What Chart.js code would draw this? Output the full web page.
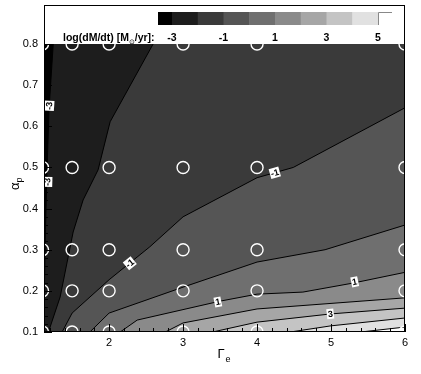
<!DOCTYPE html>
<html>
<head>
<meta charset="utf-8">
<script src="https://cdn.jsdelivr.net/npm/chart.js@4.4.0/dist/chart.umd.min.js"></script>
<style>
  html, body { margin: 0; padding: 0; background: #fff; }
</style>
</head>
<body>
<canvas id="contourChart" width="421" height="374"></canvas>
<script>
// axis ranges and tick labels
const xRange = [1.12, 6];
const yRange = [0.1, 0.8];
const xTicks = [2, 3, 4, 5, 6];
const yTicks = [0.1, 0.2, 0.3, 0.4, 0.5, 0.6, 0.7, 0.8];

// contour levels of log(dM/dt) and the grey of the band above each one
const levels = [-3, -2, -1, 0, 1, 2, 3, 4, 5];
const bandColors = ['#000000', '#1d1d1d', '#3a3a3a', '#555555', '#6f6f6f', '#8a8a8a', '#a6a6a6', '#c4c4c4', '#e1e1e1', '#ffffff'];
const legendTicks = [-3, -1, 1, 3, 5];

// contour lines (Gamma_e, alpha_p)
const cM3x = [1.245, 1.19, 1.16, 1.14, 1.125, 1.12];
const cM3y = [0.8, 0.647, 0.49, 0.35, 0.2, 0.1];
const cM2x = [2.595, 2.014, 1.851, 1.649, 1.514, 1.338, 1.18];
const cM2y = [0.8, 0.611, 0.494, 0.421, 0.343, 0.185, 0.1];
const cM1x = [6, 4.49, 4, 3, 2.55, 2, 1.5, 1.365];
const cM1y = [0.645, 0.5, 0.475, 0.38, 0.307, 0.227, 0.146, 0.1];
const c0x = [6, 4.92, 4, 3, 2, 1.74];
const c0y = [0.36, 0.3, 0.27, 0.209, 0.146, 0.1];
const c1x = [6, 5.3, 4.62, 4, 3.5, 2.38, 2.15];
const c1y = [0.245, 0.219, 0.197, 0.192, 0.175, 0.129, 0.1];
const c2x = [6, 4, 3, 2.76];
const c2y = [0.183, 0.156, 0.122, 0.1];
const c3x = [6, 5, 4, 3.4];
const c3y = [0.158, 0.144, 0.124, 0.1];
const c4x = [6, 5, 4.45];
const c4y = [0.134, 0.115, 0.1];
const c5x = [6, 5.4];
const c5y = [0.112, 0.1];
const contourX = [cM3x, cM2x, cM1x, c0x, c1x, c2x, c3x, c4x, c5x];
const contourY = [cM3y, cM2y, cM1y, c0y, c1y, c2y, c3y, c4y, c5y];

// in-line contour labels
const labelLevel = [-3, -3, -1, -1, 1, 1, 3];
const labelX = [1.19, 1.165, 4.24, 2.28, 3.47, 5.32, 4.99];
const labelY = [0.65, 0.465, 0.487, 0.267, 0.173, 0.222, 0.144];

// simulation grid points (white circles)
const gridX = [1.1, 1.5, 2, 3, 4, 6];
const gridY = [0.1, 0.2, 0.3, 0.5, 0.8];

const toPts = (xs, ys) => xs.map((v, i) => ({ x: v, y: ys[i] }));

const datasets = [];

// base band (below the lowest level) covers the whole plot
datasets.push({
  data: [
    { x: xRange[0], y: yRange[0] }, { x: xRange[1], y: yRange[0] },
    { x: xRange[1], y: yRange[1] }, { x: xRange[0], y: yRange[1] }
  ],
  backgroundColor: bandColors[0], borderWidth: 0, pointRadius: 0,
  fill: 'shape', order: 100
});

// each band is the area right/below its contour line, drawn on top of the lower ones
levels.forEach((lev, k) => {
  const pts = toPts(contourX[k], contourY[k]);
  pts.push({ x: xRange[1], y: yRange[0] }, { x: xRange[1], y: yRange[1] });
  datasets.push({
    data: pts, backgroundColor: bandColors[k + 1], borderWidth: 0,
    pointRadius: 0, fill: 'shape', order: 99 - k
  });
});

// contour lines
levels.forEach((lev, k) => {
  datasets.push({
    data: toPts(contourX[k], contourY[k]), borderColor: '#000', borderWidth: 1,
    pointRadius: 0, fill: false, order: 5
  });
});

// grid points
const gridPts = [];
gridY.forEach(gy => gridX.forEach(gx => gridPts.push({ x: gx, y: gy })));
datasets.push({
  data: gridPts, showLine: false, pointStyle: 'circle', pointRadius: 6,
  pointBorderColor: '#fff', pointBorderWidth: 1.4, pointBackgroundColor: 'rgba(0,0,0,0)',
  order: 1
});

// keep every dataset inside the plot box
const clipPlugin = {
  id: 'clipToArea',
  beforeDatasetDraw(chart) {
    const a = chart.chartArea;
    chart.ctx.save();
    chart.ctx.beginPath();
    chart.ctx.rect(a.left, a.top, a.right - a.left, a.bottom - a.top);
    chart.ctx.clip();
  },
  afterDatasetDraw(chart) {
    chart.ctx.restore();
  }
};

// frame, inward ticks, contour labels, colour legend and axis titles
const decorPlugin = {
  id: 'decor',
  afterDatasetsDraw(chart) {
    const { ctx, chartArea: a, scales: { x, y } } = chart;
    ctx.save();

    // inward tick marks
    ctx.strokeStyle = '#000';
    ctx.lineWidth = 1;
    ctx.beginPath();
    for (let i = 6; i <= 30; i++) {
      const v = i / 5;
      const px = Math.round(x.getPixelForValue(v)) + 0.5;
      ctx.moveTo(px, a.bottom);
      ctx.lineTo(px, a.bottom - (i % 5 === 0 ? 8 : 4));
    }
    for (let i = 5; i <= 40; i++) {
      const v = i / 50;
      const py = Math.round(y.getPixelForValue(v)) + 0.5;
      ctx.moveTo(a.left, py);
      ctx.lineTo(a.left + (i % 5 === 0 ? 8 : 4), py);
    }
    ctx.stroke();

    // contour labels, turned along their line
    ctx.font = 'bold 9px "Liberation Sans"';
    ctx.textAlign = 'center';
    ctx.textBaseline = 'middle';
    labelLevel.forEach((lev, i) => {
      const k = levels.indexOf(lev);
      const xs = contourX[k], ys = contourY[k];
      const lx = x.getPixelForValue(labelX[i]), ly = y.getPixelForValue(labelY[i]);
      let best = Infinity, ang = 0;
      for (let j = 0; j < xs.length - 1; j++) {
        const x1 = x.getPixelForValue(xs[j]), y1 = y.getPixelForValue(ys[j]);
        const x2 = x.getPixelForValue(xs[j + 1]), y2 = y.getPixelForValue(ys[j + 1]);
        const d = Math.hypot((x1 + x2) / 2 - lx, (y1 + y2) / 2 - ly);
        if (d < best) { best = d; ang = Math.atan2(y2 - y1, x2 - x1); }
      }
      if (ang > Math.PI / 2) ang -= Math.PI;
      if (ang < -Math.PI / 2) ang += Math.PI;
      const txt = String(lev);
      const w = ctx.measureText(txt).width + 2;
      ctx.save();
      ctx.translate(lx, ly);
      ctx.rotate(ang);
      ctx.fillStyle = '#fff';
      ctx.fillRect(-w / 2, -5, w, 10);
      ctx.fillStyle = '#000';
      ctx.fillText(txt, 0, 0.5);
      ctx.restore();
    });

    // outer frame, reaching up around the legend
    ctx.strokeStyle = '#000';
    ctx.lineWidth = 1;
    ctx.strokeRect(a.left + 0.5, 5.5, a.right - a.left - 1, a.bottom - 6);

    // colour legend
    const cbTop = 12, cbH = 13, lv0 = 172, unit = 25.75;
    ctx.fillStyle = bandColors[0];
    ctx.fillRect(158, cbTop, lv0 - 158, cbH);
    for (let k = 1; k < bandColors.length - 1; k++) {
      ctx.fillStyle = bandColors[k];
      ctx.fillRect(lv0 + (k - 1) * unit, cbTop, unit + 0.5, cbH);
    }
    const lvEnd = lv0 + (bandColors.length - 2) * unit;
    ctx.strokeStyle = '#888';
    ctx.beginPath();
    ctx.moveTo(Math.round(lvEnd) + 0.5, cbTop + cbH);
    ctx.lineTo(Math.round(lvEnd) + 0.5, cbTop + 0.5);
    ctx.lineTo(lvEnd + 14, cbTop + 0.5);
    ctx.stroke();

    ctx.fillStyle = '#000';
    ctx.font = 'bold 10.5px "Liberation Sans"';
    ctx.textBaseline = 'alphabetic';
    ctx.textAlign = 'center';
    legendTicks.forEach(v => ctx.fillText(String(v), lv0 + (v - levels[0]) * unit, 41));
    ctx.textAlign = 'left';
    let tx = 63;
    const part1 = 'log(dM/dt) [M';
    ctx.fillText(part1, tx, 41);
    tx += ctx.measureText(part1).width;
    ctx.font = '7px "DejaVu Sans"';
    ctx.fillText('\u2299', tx, 44);
    tx += ctx.measureText('\u2299').width;
    ctx.font = 'bold 10.5px "Liberation Sans"';
    ctx.fillText('/yr]:', tx, 41);

    // axis titles
    ctx.font = '13px "Liberation Sans"';
    ctx.textAlign = 'left';
    const cx = (a.left + a.right) / 2;
    ctx.fillText('\u0393', cx - 7, 358);
    ctx.font = '9px "Liberation Sans"';
    ctx.fillText('e', cx + 1, 362);

    ctx.save();
    ctx.translate(19, 190);
    ctx.rotate(-Math.PI / 2);
    ctx.font = '13px "Liberation Sans"';
    ctx.fillText('\u03b1', 0, 0);
    ctx.font = '9px "Liberation Sans"';
    ctx.fillText('p', 7.5, 2.5);
    ctx.restore();

    ctx.restore();
  }
};

const chartCtx = document.getElementById('contourChart').getContext('2d');

const contourChart = new Chart(chartCtx, {
  type: 'line',
  data: { datasets: datasets },
  options: {
    responsive: false,
    animation: false,
    layout: { padding: { top: 44, right: 16, left: 0, bottom: 0 } },
    plugins: {
      legend: { display: false },
      tooltip: { enabled: false }
    },
    elements: { line: { tension: 0 } },
    scales: {
      x: {
        type: 'linear',
        min: xRange[0],
        max: xRange[1],
        afterBuildTicks: s => { s.ticks = xTicks.map(v => ({ value: v })); },
        afterFit: s => { s.height = 42; },
        grid: { display: false, drawTicks: false },
        border: { display: false },
        ticks: {
          color: '#000',
          font: { family: 'Liberation Sans', size: 11 },
          padding: 4,
          maxRotation: 0,
          autoSkip: false,
          callback: v => String(v)
        }
      },
      y: {
        type: 'linear',
        min: yRange[0],
        max: yRange[1],
        afterBuildTicks: s => { s.ticks = yTicks.map(v => ({ value: v })); },
        afterFit: s => { s.width = 44; },
        grid: { display: false, drawTicks: false },
        border: { display: false },
        ticks: {
          color: '#000',
          font: { family: 'Liberation Sans', size: 11 },
          padding: 6,
          autoSkip: false,
          callback: v => v.toFixed(1)
        }
      }
    }
  },
  plugins: [clipPlugin, decorPlugin]
});
</script>
</body>
</html>
